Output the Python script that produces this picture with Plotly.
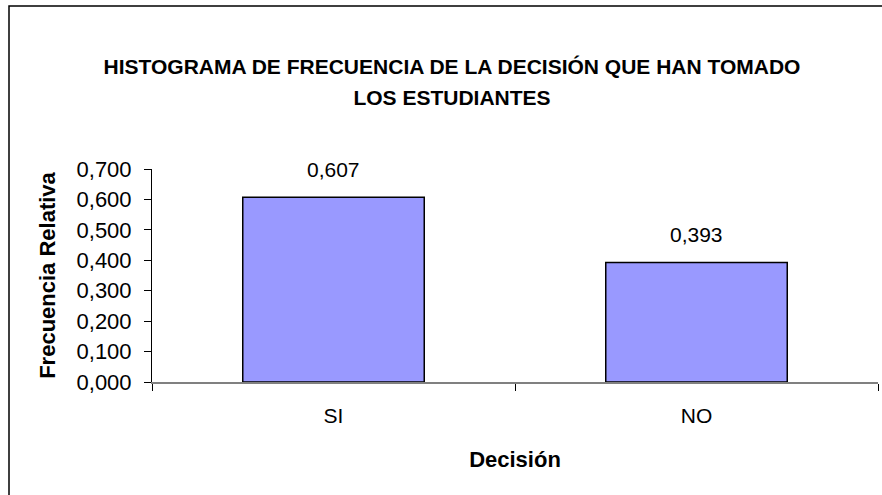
import plotly.graph_objects as go

# ---- data ----
categories = ["SI", "NO"]
values = [0.607, 0.393]
y_ticks = [0.0, 0.1, 0.2, 0.3, 0.4, 0.5, 0.6, 0.7]
title_lines = ["HISTOGRAMA DE FRECUENCIA DE LA DECISIÓN QUE HAN TOMADO", "LOS ESTUDIANTES"]
x_title = "Decisión"
y_title = "Frecuencia Relativa"

# ---- layout geometry ----
W, H = 882, 495
L, R, T, B = 152, 4, 169, 113
PW = W - L - R
PH = H - T - B
FONT = "Liberation Sans, Arial, sans-serif"


def px_x(p):
    return (p - L) / PW


def px_y(p):
    return (H - B - p) / PH


fig = go.Figure(
    go.Bar(
        x=categories,
        y=values,
        marker=dict(color="#9999FF", line=dict(color="black", width=1.5)),
        hoverinfo="skip",
    )
)

annotations = []
for c, v in zip(categories, values):
    annotations.append(
        dict(
            x=c, y=v, xref="x", yref="y",
            text=f"{v:.3f}".replace(".", ","),
            showarrow=False, yanchor="middle", yshift=28,
            font=dict(family=FONT, size=21, color="black"),
        )
    )

title_html = "<br>".join(
    '<span style="font-size:21px">' + t + "</span>" for t in title_lines
)

fig.update_layout(
    width=W, height=H,
    margin=dict(l=L, r=R, t=T, b=B, pad=0),
    paper_bgcolor="white", plot_bgcolor="white",
    separators=",.",
    showlegend=False,
    bargap=0.5,
    font=dict(family=FONT, color="black"),
    title=dict(
        text="<b>" + title_html + "</b>",
        x=452 / W, xanchor="center", xref="container",
        y=1 - 74 / H, yanchor="middle", yref="container",
        font=dict(family=FONT, size=24, color="black"),
    ),
    annotations=annotations,
    shapes=[
        dict(
            type="rect", xref="paper", yref="paper",
            x0=px_x(9), x1=px_x(905), y0=px_y(520), y1=px_y(6),
            line=dict(color="black", width=1.5), fillcolor="rgba(0,0,0,0)",
            layer="below",
        )
    ],
)

fig.update_xaxes(
    type="category",
    range=[-0.5, len(categories) - 0.5],
    showline=True, linecolor="#808080", linewidth=1.5,
    ticks="outside", tickson="boundaries", ticklen=7, tickcolor="black", tickwidth=1,
    showgrid=False, zeroline=False,
    layer="below traces",
    tickfont=dict(family=FONT, size=21, color="black"),
    ticklabelstandoff=14,
    title=dict(text="<b>" + x_title + "</b>", font=dict(family=FONT, size=22, color="black"), standoff=26),
)

fig.update_yaxes(
    range=[0, 0.7],
    tickvals=y_ticks,
    tickformat=".3f",
    showline=True, linecolor="black", linewidth=1,
    ticks="outside", ticklen=7, tickcolor="black", tickwidth=1,
    showgrid=False, zeroline=False,
    tickfont=dict(family=FONT, size=22, color="black"),
    ticklabelstandoff=8,
    title=dict(text="<b>" + y_title + "</b>", font=dict(family=FONT, size=22, color="black"), standoff=14),
)

fig.write_html(
    "out.html",
    config={"displayModeBar": False},
    post_script="document.body.style.margin='0px';document.body.style.overflow='hidden';",
)
